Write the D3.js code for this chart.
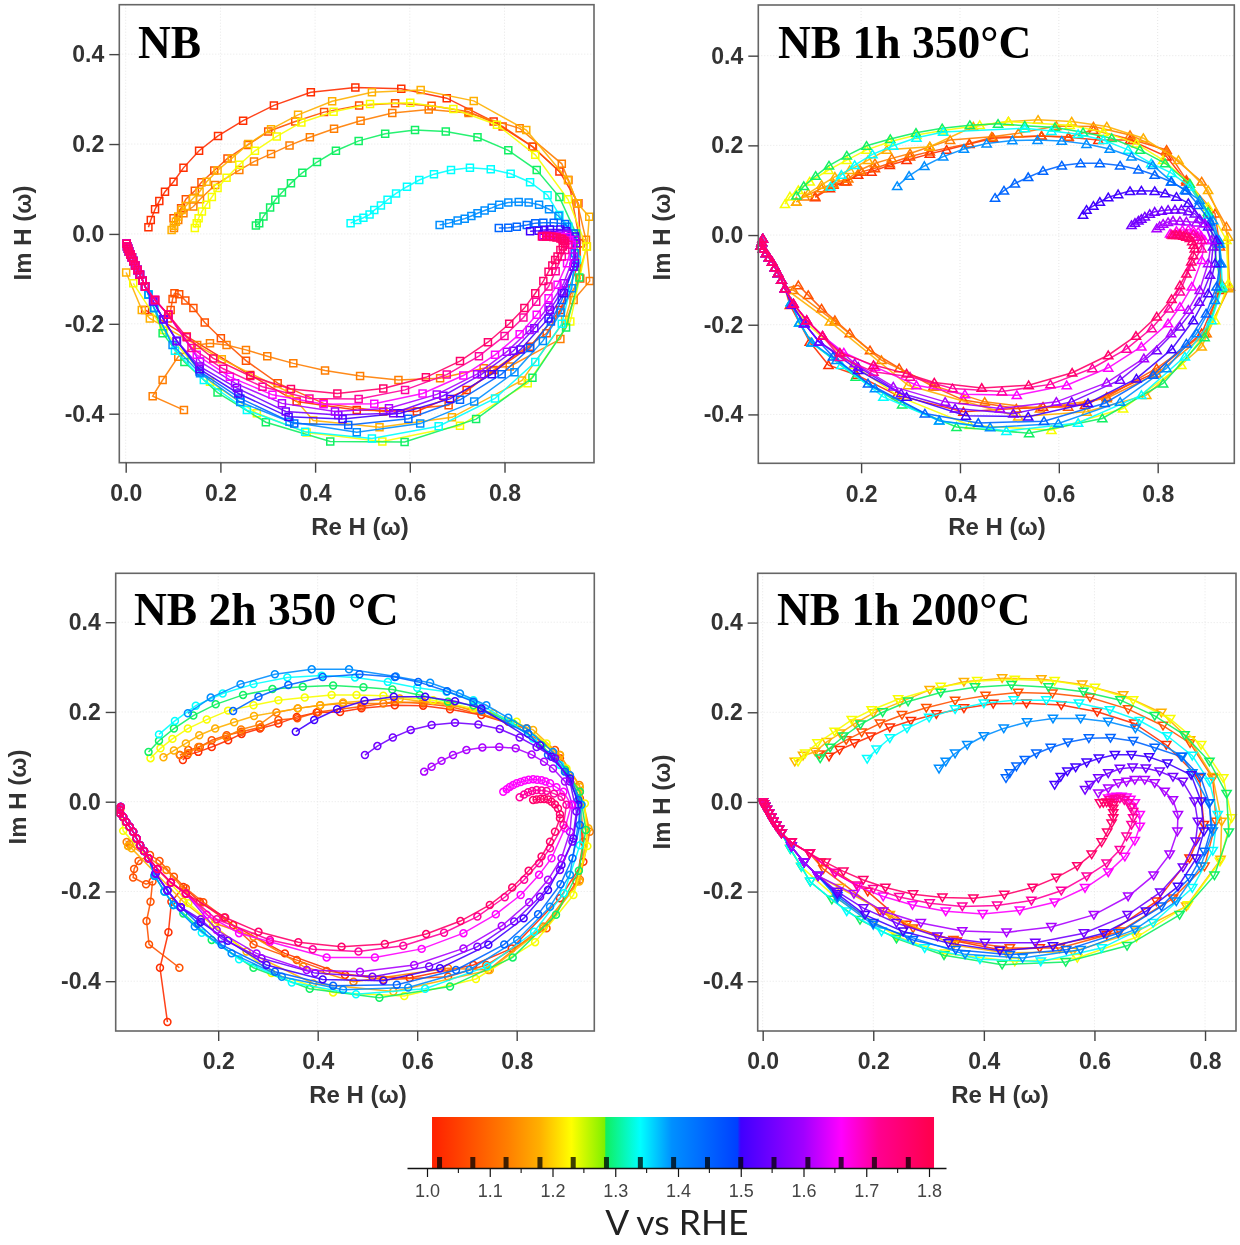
<!DOCTYPE html>
<html>
<head>
<meta charset="utf-8">
<script src="https://cdn.jsdelivr.net/npm/d3@7"></script>
<style>
body { margin:0; background:#fff; }
svg { display:block; filter:blur(.3px); }
</style>
</head>
<body>
<script>
// potentials of the 15 spectra
var voltages = [1.02,1.073,1.126,1.18,1.233,1.286,1.34,1.393,1.447,1.5,1.553,1.607,1.66,1.713,1.767];
var barStops = [1.0,1.07,1.13,1.18,1.23,1.283,1.285,1.34,1.39,1.495,1.5,1.6,1.66,1.72,1.8];
var barColors = ["#ff2000","#ff5000","#ff8000","#ffb000","#ffff00","#80f000","#10f060","#00ffff","#0090ff","#0040ff","#4000ff","#a000ff","#ff00ff","#ff0090","#ff0050"];
var barMajor = [1.0,1.1,1.2,1.3,1.4,1.5,1.6,1.7,1.8];
var barMinor = [1.05,1.15,1.25,1.35,1.45,1.55,1.65,1.75];
var imTicks = [0.4,0.2,0,-0.2,-0.4];

// NB, squares
var nbHead = [[.002,-.022],[.003,-.028],[.005,-.033],[.007,-.039],[.010,-.046],[.013,-.052],[.016,-.060],[.020,-.070],[.025,-.080],[.030,-.091],[.036,-.104],[.041,-.117]];
var nbOut = nbHead.concat([[.048,-.135],[.060,-.165]]);
var nbMid = nbHead.concat([[.058,-.150],[.080,-.190],[.108,-.238]]);
var nbIn = nbHead.concat([[.062,-.147],[.090,-.180]]);
var nb0 = [[.041,-.169],[.129,-.228],[.263,-.314],[.361,-.373],[.488,-.392],[.615,-.395],[.720,-.347],[.854,-.251],[.918,-.169],[.954,-.073],[.960,-.021],[.956,.068],[.916,.139],[.859,.194],[.777,.250],[.678,.302],[.582,.323],[.485,.326],[.391,.315],[.313,.286],[.248,.252],[.195,.218],[.155,.185],[.122,.147],[.101,.116],[.083,.094],[.071,.073],[.062,.055],[.053,.031],[.048,.015]];
var nb1 = [[.089,-.188],[.095,-.169],[.099,-.145],[.103,-.132],[.113,-.134],[.126,-.148],[.143,-.165],[.167,-.197],[.201,-.232],[.254,-.282],[.321,-.332],[.418,-.377],[.544,-.395],[.682,-.381],[.777,-.303],[.889,-.221],[.960,-.099],[.960,-.021],[.935,.120],[.860,.194],[.796,.239],[.724,.272],[.646,.285],[.569,.291],[.493,.286],[.419,.271],[.358,.250],[.301,.228],[.258,.198],[.215,.168],[.187,.141],[.160,.115],[.146,.096],[.127,.077],[.117,.057],[.101,.035]];
var nb2 = [[.123,-.392],[.057,-.361],[.078,-.325],[.111,-.273],[.151,-.247],[.178,-.243],[.213,-.247],[.254,-.258],[.299,-.272],[.354,-.288],[.421,-.304],[.495,-.316],[.576,-.325],[.664,-.321],[.756,-.299],[.811,-.295],[.918,-.234],[.946,-.147],[.980,-.105],[.972,-.013],[.954,.068],[.921,.156],[.832,.235],[.724,.269],[.640,.277],[.563,.269],[.496,.252],[.440,.234],[.389,.215],[.346,.197],[.307,.178],[.271,.161],[.240,.142],[.189,.109],[.157,.077],[.143,.061],[.122,.046],[.111,.031],[.102,.013]];
var nb3 = [[.001,-.086],[.034,-.169],[.051,-.188],[.203,-.279],[.346,-.353],[.396,-.415],[.536,-.430],[.689,-.408],[.837,-.326],[.928,-.191],[.974,-.028],[.979,.038],[.954,.068],[.934,.120],[.846,.231],[.735,.296],[.623,.320],[.520,.315],[.436,.295],[.364,.265],[.307,.233],[.259,.200],[.224,.168],[.194,.141],[.171,.116],[.156,.094],[.142,.079],[.127,.062],[.118,.053],[.111,.039],[.106,.027],[.102,.018],[.097,.009]];
var nb4 = [[.016,-.110],[.080,-.214],[.178,-.329],[.277,-.399],[.382,-.442],[.542,-.462],[.706,-.427],[.849,-.332],[.939,-.195],[.973,-.028],[.934,.077],[.865,.176],[.784,.243],[.692,.278],[.601,.292],[.516,.289],[.439,.272],[.371,.248],[.319,.217],[.273,.185],[.240,.154],[.213,.125],[.194,.102],[.182,.082],[.170,.065],[.161,.050],[.154,.035],[.150,.024],[.146,.013]];
var nb5 = nbOut.concat([[.078,-.221],[.124,-.285],[.194,-.353],[.296,-.419],[.432,-.462],[.589,-.463],[.740,-.412],[.859,-.320],[.930,-.208],[.958,-.097],[.951,.001],[.916,.082],[.868,.142],[.808,.186],[.743,.215],[.676,.228],[.611,.231],[.548,.223],[.492,.207],[.444,.185],[.404,.160],[.373,.136],[.349,.113],[.330,.092],[.316,.076],[.305,.059],[.291,.039],[.282,.024],[.275,.019]]);
var nb6 = nbOut.concat([[.104,-.260],[.165,-.325],[.256,-.392],[.379,-.440],[.520,-.455],[.661,-.428],[.780,-.366],[.865,-.285],[.921,-.200],[.953,-.058],[.935,.016],[.916,.042],[.891,.086],[.854,.115],[.813,.134],[.771,.144],[.727,.147],[.687,.142],[.651,.133],[.620,.120],[.594,.105],[.571,.090],[.553,.076],[.539,.063],[.525,.053],[.515,.043],[.502,.036],[.489,.031],[.475,.024]]);
var nb7 = nbOut.concat([[.099,-.247],[.157,-.310],[.242,-.374],[.346,-.418],[.488,-.441],[.622,-.422],[.736,-.373],[.821,-.308],[.881,-.238],[.919,-.175],[.942,-.121],[.949,-.043],[.932,.016],[.914,.040],[.894,.055],[.873,.065],[.851,.070],[.830,.071],[.808,.070],[.789,.065],[.773,.058],[.758,.052],[.743,.046],[.730,.040],[.716,.034],[.701,.030],[.683,.024],[.663,.020]]);
var nb8 = nbMid.concat([[.156,-.306],[.242,-.366],[.356,-.422],[.470,-.425],[.597,-.411],[.706,-.369],[.794,-.312],[.854,-.254],[.898,-.195],[.921,-.147],[.946,-.073],[.946,.001],[.928,.022],[.904,.025],[.882,.025],[.865,.024],[.847,.020],[.826,.016],[.808,.014],[.788,.013]]);
var nb9 = nbMid.concat([[.156,-.301],[.238,-.355],[.344,-.407],[.458,-.412],[.580,-.399],[.685,-.367],[.773,-.312],[.834,-.257],[.893,-.188],[.925,-.132],[.949,-.065],[.949,-.006],[.930,.006],[.918,.010],[.896,.010],[.884,.009],[.872,.007],[.854,.006]]);
var nb10 = nbMid.concat([[.156,-.295],[.235,-.343],[.338,-.395],[.449,-.403],[.565,-.399],[.671,-.360],[.752,-.312],[.819,-.260],[.863,-.210],[.896,-.169],[.921,-.128],[.946,-.073],[.951,-.021],[.932,.001],[.918,-.001],[.905,-.002],[.892,-.002],[.880,-.003]]);
var nb11 = nbIn.concat([[.157,-.284],[.231,-.332],[.330,-.377],[.442,-.395],[.556,-.388],[.657,-.357],[.742,-.312],[.805,-.262],[.853,-.214],[.893,-.162],[.925,-.110],[.946,-.050],[.949,-.013],[.932,-.002],[.918,-.004],[.905,-.005],[.892,-.005],[.882,-.005]]);
var nb12 = nbIn.concat([[.150,-.269],[.220,-.318],[.310,-.358],[.418,-.379],[.525,-.378],[.627,-.355],[.713,-.315],[.780,-.269],[.832,-.223],[.868,-.180],[.893,-.143],[.912,-.113],[.932,-.065],[.942,-.024],[.937,-.014],[.932,-.007],[.918,-.007],[.905,-.006],[.892,-.006],[.882,-.006]]);
var nb13 = nbIn.concat([[.139,-.254],[.206,-.300],[.289,-.340],[.388,-.366],[.492,-.367],[.590,-.347],[.678,-.313],[.746,-.272],[.800,-.227],[.840,-.186],[.867,-.151],[.893,-.117],[.908,-.083],[.921,-.050],[.928,-.036],[.935,-.024],[.928,-.016],[.921,-.010],[.910,-.007],[.900,-.005],[.889,-.004]]);
var nb14 = nbIn.concat([[.129,-.230],[.185,-.277],[.263,-.316],[.349,-.345],[.447,-.355],[.544,-.344],[.634,-.319],[.706,-.283],[.765,-.241],[.810,-.200],[.842,-.165],[.865,-.132],[.882,-.105],[.893,-.084],[.901,-.070],[.907,-.058],[.912,-.050],[.918,-.036],[.923,-.028],[.928,-.021],[.926,-.015],[.922,-.012],[.918,-.010],[.910,-.008],[.903,-.007],[.896,-.006],[.888,-.006],[.879,-.006]]);

// NB 1h 350C, triangles up
var a1Head = [[.001,-.008],[-.001,-.016],[-.003,-.024],[.002,-.030],[.008,-.040],[.014,-.050],[.020,-.060],[.026,-.072],[.032,-.085],[.039,-.100],[.046,-.119]];
var a1Out = a1Head.concat([[.058,-.150],[.075,-.195],[.100,-.240]]);
var a1Mid = a1Head.concat([[.060,-.155],[.085,-.197],[.115,-.238]]);
var a1In = a1Head.concat([[.063,-.153],[.090,-.190],[.122,-.225]]);
var a1_0 = a1Head.concat([[.056,-.156],[.096,-.238],[.134,-.290],[.191,-.312],[.272,-.357],[.407,-.394],[.568,-.383],[.653,-.379],[.791,-.309],[.889,-.219],[.926,-.123],[.926,-.020],[.902,.048],[.858,.119],[.818,.175],[.744,.212],[.680,.212],[.619,.218],[.565,.221],[.467,.216],[.419,.203],[.373,.190],[.339,.181],[.292,.167],[.258,.156],[.221,.141],[.194,.134],[.167,.119],[.137,.104],[.107,.084]]);
var a1_1 = a1Head.concat([[.073,-.112],[.093,-.134],[.120,-.164],[.147,-.190],[.177,-.219],[.218,-.257],[.277,-.297],[.346,-.338],[.407,-.368],[.514,-.387],[.619,-.383],[.697,-.361],[.798,-.297],[.895,-.219],[.929,-.108],[.926,-.026],[.916,.048],[.858,.123],[.818,.190],[.750,.212],[.670,.234],[.620,.219],[.565,.221],[.466,.218],[.419,.204],[.339,.186],[.299,.175],[.258,.160],[.228,.149],[.201,.141],[.171,.119],[.144,.112],[.107,.086]]);
var a1_2 = a1Head.concat([[.063,-.123],[.147,-.193],[.241,-.279],[.353,-.338],[.450,-.372],[.562,-.387],[.697,-.364],[.798,-.309],[.899,-.219],[.946,-.115],[.939,.019],[.889,.119],[.818,.186],[.744,.223],[.670,.242],[.595,.243],[.518,.227],[.464,.219],[.380,.212],[.339,.197],[.299,.182],[.262,.171],[.228,.160],[.198,.145],[.174,.126],[.144,.115],[.120,.104],[.086,.086],[.069,.074]]);
var a1_3 = a1Head.concat([[.137,-.193],[.295,-.335],[.518,-.405],[.656,-.394],[.777,-.357],[.889,-.249],[.943,-.119],[.943,-.004],[.902,.100],[.842,.167],[.771,.216],[.697,.242],[.626,.253],[.558,.257],[.498,.253],[.427,.242],[.339,.197],[.252,.190],[.214,.167],[.177,.145],[.147,.130],[.120,.112],[.093,.093],[.069,.074]]);
var a1_4 = a1Head.concat([[.083,-.190],[.184,-.290],[.278,-.361],[.420,-.424],[.585,-.435],[.730,-.387],[.848,-.290],[.916,-.190],[.943,-.108],[.939,-.011],[.902,.063],[.865,.115],[.811,.167],[.757,.204],[.690,.230],[.622,.245],[.498,.253],[.440,.245],[.366,.233],[.312,.223],[.258,.208],[.211,.190],[.171,.167],[.134,.145],[.096,.119],[.073,.100],[.056,.086],[.046,.069]]);
var a1_5 = a1Out.concat([[.189,-.316],[.283,-.378],[.393,-.428],[.540,-.442],[.688,-.409],[.811,-.331],[.895,-.228],[.929,-.119],[.902,.052],[.865,.114],[.815,.160],[.764,.190],[.707,.216],[.649,.229],[.592,.240],[.531,.244],[.477,.248],[.420,.245],[.364,.238],[.311,.228],[.259,.214],[.211,.199],[.171,.177],[.135,.155],[.108,.132],[.084,.109],[.069,.088]]);
var a1_6 = a1Out.concat([[.160,-.290],[.245,-.361],[.358,-.414],[.494,-.437],[.639,-.419],[.767,-.357],[.855,-.271],[.909,-.190],[.931,-.115],[.926,-.019],[.902,.045],[.865,.108],[.828,.138],[.787,.160],[.740,.190],[.690,.212],[.639,.225],[.585,.232],[.531,.238],[.366,.230],[.312,.217],[.265,.199],[.223,.180],[.187,.156],[.160,.134],[.138,.108]]);
var a1_7 = a1Out.concat([[.150,-.279],[.228,-.342],[.358,-.414],[.461,-.429],[.599,-.420],[.724,-.372],[.818,-.297],[.879,-.219],[.916,-.145],[.929,-.063],[.924,-.011],[.912,.033],[.885,.078],[.855,.100],[.828,.119],[.790,.156],[.747,.175],[.703,.192],[.656,.203],[.606,.210],[.557,.212],[.506,.211],[.454,.204],[.408,.192],[.366,.175],[.328,.154],[.297,.132],[.273,.109]]);
var a1_8 = a1Mid.concat([[.143,-.271],[.214,-.331],[.329,-.398],[.437,-.419],[.570,-.415],[.693,-.375],[.791,-.312],[.858,-.242],[.898,-.175],[.919,-.115],[.926,-.063],[.924,-.019],[.906,.030],[.882,.067],[.858,.099],[.827,.119],[.794,.134],[.761,.146],[.724,.155],[.683,.160],[.644,.160],[.606,.155],[.568,.143],[.538,.129],[.511,.115],[.489,.099],[.471,.083]]);
var a1_9 = a1Mid.concat([[.194,-.301],[.292,-.361],[.412,-.403],[.538,-.405],[.659,-.375],[.757,-.320],[.828,-.255],[.872,-.190],[.902,-.130],[.916,-.063],[.919,-.011],[.902,.019],[.862,.071],[.838,.085],[.815,.093],[.794,.098],[.767,.099],[.744,.098],[.720,.091],[.700,.084],[.683,.074],[.670,.065],[.656,.056],[.649,.045]]);
var a1_10 = a1Mid.concat([[.194,-.294],[.281,-.353],[.390,-.387],[.508,-.398],[.626,-.372],[.724,-.323],[.798,-.257],[.845,-.204],[.884,-.149],[.906,-.089],[.912,-.026],[.895,.026],[.885,.036],[.875,.048],[.862,.053],[.848,.057],[.835,.057],[.821,.056],[.808,.054],[.794,.052],[.784,.047],[.774,.041],[.767,.036],[.761,.032],[.754,.027],[.747,.022]]);
var a1_11 = a1In.concat([[.187,-.286],[.265,-.338],[.370,-.372],[.481,-.387],[.595,-.372],[.697,-.329],[.772,-.275],[.827,-.219],[.862,-.167],[.885,-.123],[.902,-.063],[.909,-.011],[.895,.026],[.878,.028],[.858,.030],[.845,.031],[.831,.032],[.821,.029],[.811,.025],[.804,.020],[.798,.015]]);
var a1_12 = a1In.concat([[.165,-.262],[.228,-.294],[.312,-.335],[.410,-.355],[.515,-.357],[.616,-.335],[.700,-.296],[.767,-.249],[.821,-.197],[.845,-.160],[.869,-.115],[.889,-.056],[.895,-.011],[.888,-.002],[.882,.007],[.872,.010],[.862,.012],[.850,.011],[.838,.009],[.825,.003]]);
var a1_13 = a1In.concat([[.157,-.272],[.225,-.305],[.299,-.316],[.385,-.342],[.485,-.349],[.583,-.333],[.668,-.297],[.737,-.254],[.788,-.208],[.823,-.164],[.845,-.126],[.866,-.071],[.889,-.030],[.889,-.011],[.880,-.004],[.872,.002],[.858,.003],[.845,.003],[.836,.002],[.828,.001]]);
var a1_14 = a1In.concat([[.157,-.262],[.225,-.290],[.292,-.309],[.348,-.329],[.444,-.341],[.539,-.335],[.627,-.307],[.700,-.268],[.756,-.225],[.798,-.182],[.828,-.143],[.845,-.112],[.858,-.086],[.868,-.059],[.872,-.045],[.875,-.030],[.873,-.022],[.870,-.014],[.865,-.007],[.858,-.004],[.852,-.002],[.845,.000],[.838,.000],[.831,.000]]);

// NB 2h 350C, circles
var a2Head = [[.004,-.012],[.002,-.018],[.003,-.026],[.009,-.034],[.015,-.045],[.022,-.056],[.029,-.067],[.036,-.082],[.043,-.097],[.051,-.110],[.060,-.126]];
var a2Out = a2Head.concat([[.072,-.165],[.092,-.200],[.110,-.230]]);
var a2Mid = a2Head.concat([[.074,-.160],[.098,-.198],[.125,-.235]]);
var a2In = a2Head.concat([[.078,-.150],[.105,-.180],[.135,-.205]]);
var a2_0 = [[.098,-.491],[.083,-.370],[.100,-.291],[.106,-.223],[.130,-.190],[.163,-.223],[.230,-.275],[.334,-.338],[.455,-.386],[.585,-.393],[.713,-.364],[.790,-.327],[.887,-.215],[.934,-.134],[.927,.007],[.887,.097],[.820,.163],[.729,.193],[.666,.206],[.612,.214],[.555,.215],[.488,.208],[.445,.200],[.398,.199],[.358,.189],[.321,.174],[.284,.163],[.247,.151],[.220,.137],[.187,.122],[.160,.111],[.138,.104],[.129,.093]];
var a2_1 = [[.122,-.370],[.061,-.318],[.056,-.266],[.064,-.223],[.068,-.178],[.055,-.184],[.029,-.169],[.031,-.150],[.040,-.132],[.063,-.119],[.082,-.132],[.111,-.167],[.135,-.193],[.170,-.224],[.212,-.258],[.271,-.318],[.358,-.353],[.418,-.377],[.532,-.397],[.662,-.390],[.739,-.364],[.860,-.282],[.920,-.178],[.934,-.089],[.927,.022],[.877,.115],[.783,.178],[.666,.212],[.612,.219],[.555,.223],[.488,.212],[.401,.200],[.359,.186],[.321,.182],[.286,.166],[.247,.156],[.217,.148],[.187,.137],[.163,.122],[.140,.115],[.123,.104]];
var a2_2 = [[.019,-.099],[.016,-.090],[.022,-.095],[.096,-.152],[.194,-.271],[.271,-.301],[.371,-.367],[.472,-.401],[.662,-.371],[.743,-.375],[.853,-.278],[.927,-.174],[.947,-.067],[.926,.037],[.887,.104],[.820,.163],[.666,.219],[.612,.223],[.532,.219],[.451,.219],[.405,.215],[.360,.208],[.317,.199],[.283,.172],[.246,.161],[.216,.145],[.160,.122],[.140,.108],[.123,.104]];
var a2_3 = [[.019,-.099],[.026,-.104],[.130,-.223],[.257,-.334],[.391,-.405],[.552,-.423],[.746,-.375],[.853,-.282],[.926,-.178],[.944,-.059],[.927,.033],[.887,.104],[.833,.160],[.753,.197],[.666,.215],[.565,.230],[.451,.221],[.405,.215],[.360,.208],[.272,.191],[.232,.177],[.194,.163],[.162,.148],[.135,.130],[.111,.114],[.090,.099]];
var a2_4 = [[.004,-.016],[.009,-.065],[.140,-.226],[.190,-.275],[.307,-.382],[.431,-.425],[.574,-.433],[.718,-.395],[.837,-.313],[.914,-.208],[.942,-.099],[.937,-.004],[.900,.074],[.860,.130],[.800,.178],[.713,.208],[.632,.226],[.532,.236],[.478,.238],[.428,.238],[.374,.232],[.321,.226],[.271,.215],[.220,.203],[.177,.183],[.139,.163],[.108,.140],[.084,.119],[.064,.097]];
var a2_5 = a2Out.concat([[.130,-.249],[.187,-.308],[.271,-.370],[.384,-.417],[.524,-.437],[.666,-.412],[.792,-.347],[.879,-.252],[.925,-.154],[.939,-.063],[.927,.022],[.897,.071],[.850,.126],[.793,.174],[.713,.215],[.662,.223],[.605,.238],[.550,.250],[.492,.255],[.431,.259],[.370,.256],[.309,.251],[.250,.238],[.195,.217],[.150,.192],[.111,.163],[.081,.136],[.060,.111]]);
var a2_6 = a2Out.concat([[.167,-.292],[.242,-.351],[.348,-.403],[.477,-.429],[.616,-.417],[.741,-.367],[.835,-.290],[.895,-.204],[.927,-.097],[.930,-.007],[.887,.082],[.833,.141],[.786,.178],[.713,.226],[.659,.245],[.600,.254],[.541,.267],[.475,.277],[.408,.281],[.339,.277],[.271,.262],[.209,.241],[.155,.214],[.113,.180],[.081,.150]]);
var a2_7 = a2Out.concat([[.153,-.278],[.227,-.338],[.328,-.390],[.451,-.419],[.582,-.414],[.705,-.375],[.801,-.308],[.867,-.234],[.907,-.163],[.930,-.007],[.907,.059],[.873,.111],[.820,.163],[.783,.187],[.739,.215],[.686,.241],[.626,.265],[.557,.279],[.463,.295],[.388,.295],[.314,.284],[.245,.262],[.185,.232],[.139,.197]]);
var a2_8 = a2Mid.concat([[.160,-.272],[.207,-.319],[.314,-.379],[.431,-.410],[.559,-.408],[.678,-.375],[.775,-.318],[.843,-.251],[.888,-.184],[.912,-.126],[.927,-.052],[.924,.004],[.897,.067],[.863,.104],[.823,.152],[.729,.204],[.713,.223],[.660,.246],[.602,.267],[.555,.278],[.484,.284],[.410,.278],[.341,.260],[.281,.234],[.230,.202]]);
var a2_9 = a2Mid.concat([[.165,-.268],[.220,-.310],[.297,-.364],[.410,-.396],[.532,-.399],[.646,-.371],[.743,-.319],[.814,-.260],[.863,-.197],[.890,-.141],[.914,-.082],[.924,-.007],[.907,.052],[.870,.100],[.847,.126],[.729,.208],[.676,.224],[.616,.234],[.553,.234],[.494,.225],[.439,.206],[.393,.182],[.356,.156]]);
var a2_10 = a2Mid.concat([[.165,-.262],[.207,-.305],[.287,-.349],[.395,-.382],[.510,-.390],[.624,-.367],[.721,-.323],[.795,-.267],[.847,-.212],[.887,-.152],[.912,-.089],[.920,-.022],[.907,.045],[.877,.097],[.840,.122],[.806,.143],[.766,.162],[.723,.172],[.676,.176],[.629,.171],[.587,.160],[.551,.143],[.520,.124],[.495,.104]]);
var a2_11 = a2In.concat([[.197,-.286],[.277,-.338],[.378,-.375],[.485,-.379],[.594,-.364],[.693,-.327],[.770,-.277],[.825,-.224],[.863,-.174],[.890,-.126],[.907,-.067],[.912,-.007],[.897,.045],[.873,.074],[.855,.089],[.830,.105],[.798,.119],[.765,.122],[.731,.121],[.699,.115],[.672,.104],[.649,.091],[.629,.078],[.614,.067]]);
var a2_12 = a2In.concat([[.177,-.252],[.242,-.293],[.304,-.312],[.418,-.347],[.515,-.347],[.609,-.328],[.693,-.293],[.758,-.251],[.808,-.208],[.845,-.163],[.870,-.126],[.897,-.059],[.910,-.007],[.894,.022],[.880,.032],[.867,.041],[.858,.045],[.850,.048],[.841,.049],[.833,.050],[.824,.049],[.816,.047],[.808,.044],[.800,.041],[.793,.037],[.786,.033],[.780,.028],[.773,.022]]);
var a2_13 = a2In.concat([[.197,-.262],[.304,-.308],[.390,-.329],[.482,-.334],[.572,-.321],[.654,-.292],[.721,-.256],[.776,-.213],[.815,-.174],[.845,-.137],[.867,-.104],[.894,-.052],[.900,-.007],[.890,.011],[.875,.018],[.860,.024],[.850,.025],[.840,.026],[.831,.024],[.823,.021],[.815,.016],[.806,.010]]);
var a2_14 = a2In.concat([[.214,-.258],[.281,-.290],[.361,-.313],[.448,-.323],[.535,-.317],[.618,-.295],[.687,-.266],[.746,-.230],[.791,-.191],[.824,-.154],[.850,-.122],[.867,-.089],[.877,-.067],[.887,-.037],[.887,-.028],[.883,-.015],[.877,-.006],[.870,.000],[.863,.005],[.855,.006],[.848,.006],[.840,.005],[.833,.004]]);

// NB 1h 200C, triangles down
var a3Head = [[.000,-.001],[.002,-.005],[.004,-.011],[.007,-.018],[.011,-.026],[.015,-.035],[.019,-.044],[.024,-.053],[.029,-.062],[.034,-.070]];
var a3Out = a3Head.concat([[.050,-.105],[.070,-.145]]);
var a3Mid = a3Head.concat([[.052,-.100],[.075,-.135],[.100,-.165]]);
var a3In = a3Head.concat([[.052,-.090],[.085,-.115]]);
var a3_0 = a3In.concat([[.105,-.135],[.190,-.200],[.260,-.274],[.351,-.311],[.429,-.330],[.501,-.326],[.622,-.296],[.712,-.222],[.772,-.126],[.798,-.051],[.790,.053],[.730,.127],[.672,.175],[.605,.201],[.540,.216],[.477,.220],[.417,.219],[.364,.209],[.314,.196],[.268,.181],[.230,.166],[.195,.146],[.166,.131],[.139,.116],[.120,.101]]);
var a3_1 = a3In.concat([[.110,-.150],[.212,-.244],[.272,-.282],[.345,-.308],[.447,-.326],[.537,-.326],[.646,-.289],[.742,-.215],[.799,-.144],[.820,-.044],[.814,.053],[.773,.131],[.724,.170],[.661,.207],[.592,.233],[.524,.242],[.462,.244],[.403,.237],[.348,.226],[.296,.210],[.252,.194],[.212,.175],[.179,.155],[.151,.138],[.102,.106]]);
var a3_3 = a3Mid.concat([[.140,-.192],[.230,-.252],[.345,-.319],[.441,-.337],[.561,-.334],[.676,-.289],[.766,-.233],[.828,-.129],[.830,-.044],[.814,.056],[.773,.138],[.721,.199],[.652,.238],[.578,.262],[.504,.274],[.433,.276],[.364,.268],[.302,.250],[.248,.222],[.200,.198],[.167,.175],[.140,.153],[.116,.134],[.095,.112],[.073,.103],[.058,.090]]);
var a3_4 = a3Out.concat([[.134,-.215],[.242,-.300],[.330,-.338],[.456,-.356],[.569,-.348],[.676,-.302],[.769,-.230],[.827,-.133],[.848,-.036],[.833,.053],[.793,.127],[.737,.185],[.670,.227],[.601,.255],[.528,.270],[.456,.273],[.388,.270],[.322,.257],[.245,.229],[.197,.205],[.161,.183],[.130,.157],[.099,.131],[.077,.108],[.064,.090]]);
var a3_5 = a3Out.concat([[.086,-.178],[.125,-.218],[.176,-.263],[.242,-.305],[.328,-.342],[.433,-.363],[.548,-.357],[.659,-.321],[.754,-.252],[.817,-.164],[.843,-.068],[.839,.018],[.808,.090],[.763,.149],[.709,.192],[.647,.227],[.580,.246],[.517,.256],[.450,.261],[.384,.256],[.322,.244],[.263,.224],[.217,.200],[.177,.173],[.146,.146],[.122,.121],[.104,.097]]);
var a3_6 = a3Out.concat([[.086,-.178],[.152,-.244],[.215,-.289],[.293,-.326],[.393,-.351],[.503,-.356],[.613,-.326],[.706,-.270],[.777,-.192],[.814,-.109],[.823,-.029],[.808,.045],[.777,.103],[.732,.147],[.682,.181],[.628,.205],[.572,.220],[.513,.227],[.454,.227],[.400,.220],[.348,.207],[.301,.188],[.261,.164],[.230,.142],[.206,.117],[.189,.096]]);
var a3_7 = a3Mid.concat([[.135,-.215],[.200,-.274],[.263,-.300],[.366,-.340],[.470,-.348],[.575,-.330],[.673,-.285],[.748,-.222],[.792,-.144],[.814,-.066],[.807,-.003],[.777,.064],[.759,.101],[.674,.164],[.625,.179],[.575,.186],[.525,.186],[.478,.178],[.436,.164],[.400,.147],[.370,.127],[.348,.108],[.331,.090],[.319,.074]]);
var a3_8 = a3Mid.concat([[.135,-.210],[.200,-.270],[.272,-.308],[.349,-.330],[.447,-.341],[.549,-.330],[.643,-.293],[.721,-.233],[.772,-.170],[.799,-.111],[.811,-.059],[.808,-.003],[.792,.056],[.757,.101],[.709,.121],[.670,.136],[.629,.143],[.590,.142],[.552,.133],[.521,.121],[.495,.108],[.474,.094],[.459,.079],[.447,.064],[.440,.053]]);
var a3_9 = a3Mid.concat([[.135,-.205],[.185,-.252],[.254,-.289],[.336,-.315],[.429,-.332],[.525,-.322],[.617,-.293],[.693,-.244],[.751,-.189],[.784,-.126],[.798,-.066],[.793,.001],[.775,.060],[.732,.086],[.699,.100],[.667,.105],[.637,.105],[.608,.097],[.586,.088],[.566,.077],[.551,.068],[.539,.056],[.528,.038]]);
var a3_10 = a3Mid.concat([[.135,-.200],[.182,-.237],[.242,-.270],[.316,-.300],[.402,-.314],[.493,-.314],[.581,-.293],[.660,-.252],[.719,-.202],[.760,-.146],[.783,-.088],[.787,-.044],[.781,.001],[.760,.045],[.742,.056],[.718,.068],[.693,.075],[.669,.077],[.646,.074],[.625,.064],[.607,.053],[.592,.038],[.583,.027]]);
var a3_11 = a3Mid.concat([[.165,-.205],[.218,-.244],[.286,-.270],[.361,-.288],[.441,-.291],[.522,-.279],[.599,-.252],[.661,-.211],[.707,-.164],[.736,-.117],[.750,-.066],[.751,-.029],[.742,.004],[.727,.023],[.709,.042],[.691,.049],[.673,.049],[.658,.045],[.643,.042],[.625,.030],[.607,.019]]);
var a3_12 = a3In.concat([[.130,-.158],[.173,-.189],[.218,-.211],[.271,-.230],[.331,-.244],[.398,-.250],[.465,-.242],[.528,-.224],[.583,-.192],[.625,-.157],[.655,-.122],[.673,-.087],[.682,-.055],[.682,-.029],[.673,-.003],[.665,.005],[.658,.010],[.649,.012],[.640,.012],[.632,.010],[.625,.008]]);
var a3_13 = a3In.concat([[.131,-.159],[.170,-.186],[.200,-.194],[.247,-.212],[.302,-.226],[.361,-.233],[.424,-.231],[.486,-.220],[.540,-.198],[.586,-.166],[.622,-.137],[.646,-.107],[.658,-.077],[.667,-.051],[.670,-.036],[.670,-.022],[.666,-.012],[.661,-.003],[.654,.004],[.646,.008],[.637,.007],[.628,.004]]);
var a3_14 = a3In.concat([[.114,-.135],[.146,-.155],[.182,-.174],[.222,-.191],[.272,-.206],[.325,-.213],[.381,-.215],[.437,-.207],[.488,-.191],[.531,-.169],[.569,-.143],[.595,-.117],[.613,-.090],[.623,-.068],[.631,-.048],[.634,-.036],[.634,-.025],[.634,-.015],[.634,-.007],[.628,-.003],[.622,-.001],[.616,-.002],[.610,-.003]]);

var w = 1240;
var h = 1245;
var svgMain = d3.select("body").append("svg").attr("width",w).attr("height",h);

var colorOf = d3.scaleLinear().domain(barStops).range(barColors);

var panels = [
  {title:"NB", marker:"square", curves:[nb0,nb1,nb2,nb3,nb4,nb5,nb6,nb7,nb8,nb9,nb10,nb11,nb12,nb13,nb14], volts:voltages,
   xTicks:[0,0.2,0.4,0.6,0.8], xDom:[-.0135,.989], yDom:[.510,-.509], box:[119.3,4.7,594,462.7], tx:138, ty:58, xl:[360,535], yl:[23,233]},
  {title:"NB 1h 350°C", marker:"up", curves:[a1_0,a1_1,a1_2,a1_3,a1_4,a1_5,a1_6,a1_7,a1_8,a1_9,a1_10,a1_11,a1_12,a1_13,a1_14], volts:voltages,
   xTicks:[0.2,0.4,0.6,0.8], xDom:[-.008,.955], yDom:[.513,-.509], box:[758.3,5,1234.3,463.3], tx:778, ty:58, xl:[997,535], yl:[662,233]},
  {title:"NB 2h 350 °C", marker:"circle", curves:[a2_0,a2_1,a2_2,a2_3,a2_4,a2_5,a2_6,a2_7,a2_8,a2_9,a2_10,a2_11,a2_12,a2_13,a2_14], volts:voltages,
   xTicks:[0.2,0.4,0.6,0.8], xDom:[-.006,.956], yDom:[.509,-.511], box:[115.7,573.3,594.3,1031], tx:134, ty:625, xl:[358,1103], yl:[18,797]},
  {title:"NB 1h 200°C", marker:"down", curves:[a3_0,a3_1,a3_3,a3_4,a3_5,a3_6,a3_7,a3_8,a3_9,a3_10,a3_11,a3_12,a3_13,a3_14],
   volts:[1.02,1.073,1.18,1.233,1.286,1.34,1.393,1.447,1.5,1.553,1.607,1.66,1.713,1.767],
   xTicks:[0,0.2,0.4,0.6,0.8], xDom:[-.009,.856], yDom:[.510,-.511], box:[757.7,573.3,1236,1031], tx:777, ty:625, xl:[1000,1103], yl:[662,802]}
];

panels.forEach(drawPanel);
drawBar();

function drawPanel(p){
  var x = d3.scaleLinear().domain(p.xDom).range([p.box[0],p.box[2]]);
  var y = d3.scaleLinear().domain(p.yDom).range([p.box[1],p.box[3]]);
  var g = svgMain.append("g");

  // faint grid
  g.selectAll(".gx").data(p.xTicks).enter().append("line")
    .attr("x1",x).attr("x2",x).attr("y1",p.box[1]).attr("y2",p.box[3])
    .attr("stroke","#e6e6e6").attr("stroke-dasharray","1,2");
  g.selectAll(".gy").data(imTicks).enter().append("line")
    .attr("y1",y).attr("y2",y).attr("x1",p.box[0]).attr("x2",p.box[2])
    .attr("stroke","#e6e6e6").attr("stroke-dasharray","1,2");

  var line = d3.line().x(function(d){return x(d[0]);}).y(function(d){return y(d[1]);});
  var sym = symbolFor(p.marker);

  p.curves.forEach(function(c,i){
    var col = colorOf(p.volts[i]);
    g.append("path").attr("d",line(c)).attr("fill","none").attr("stroke",col).attr("stroke-width",1.5).attr("stroke-opacity",.9);
    g.selectAll(".m"+i).data(c).enter().append("path")
      .attr("d",sym)
      .attr("transform",function(d){return "translate("+x(d[0])+","+y(d[1])+")";})
      .attr("fill","none").attr("stroke",col).attr("stroke-width",1.5);
  });

  g.append("rect").attr("x",p.box[0]).attr("y",p.box[1])
    .attr("width",p.box[2]-p.box[0]).attr("height",p.box[3]-p.box[1])
    .attr("fill","none").attr("stroke","#666").attr("stroke-width",1.6);

  var ax = g.append("g").attr("transform","translate(0,"+p.box[3]+")")
    .call(d3.axisBottom(x).tickValues(p.xTicks).tickSize(10).tickPadding(12).tickFormat(d3.format(".1f")));
  var ay = g.append("g").attr("transform","translate("+p.box[0]+",0)")
    .call(d3.axisLeft(y).tickValues(imTicks).tickSize(10).tickPadding(5).tickFormat(d3.format(".1f")));
  [ax,ay].forEach(function(a){
    a.select(".domain").remove();
    a.selectAll("line").attr("stroke","#444").attr("stroke-width",1.4);
    a.selectAll("text").attr("font-family","'Liberation Sans',Arial,sans-serif").attr("font-weight","bold").attr("font-size",23).attr("fill","#333");
  });
  ay.selectAll("text").text(function(d){return d3.format(".1f")(d).replace("−","-");});

  g.append("text").attr("x",p.xl[0]).attr("y",p.xl[1]).attr("text-anchor","middle")
    .attr("font-family","'Liberation Sans',Arial,sans-serif").attr("font-weight","bold").attr("font-size",24).attr("fill","#333")
    .text("Re H (ω)");
  g.append("text").attr("transform","translate("+(p.yl[0]+8)+","+p.yl[1]+") rotate(-90)").attr("text-anchor","middle")
    .attr("font-family","'Liberation Sans',Arial,sans-serif").attr("font-weight","bold").attr("font-size",24).attr("fill","#333")
    .text("Im H (ω)");
  g.append("text").attr("x",p.tx).attr("y",p.ty)
    .attr("font-family","'Liberation Serif',serif").attr("font-weight","bold").attr("font-size",45.5).attr("fill","#000")
    .text(p.title);
}

function symbolFor(kind){
  if(kind=="square") return "M-3.5,-3.5H3.5V3.5H-3.5Z";
  if(kind=="up") return "M0,-4.2L4.6,3.4H-4.6Z";
  if(kind=="down") return "M0,4.2L4.6,-3.4H-4.6Z";
  return d3.symbol().type(d3.symbolCircle).size(38)();
}

function drawBar(){
  var x = d3.scaleLinear().domain([1.0,1.8]).range([427,929]);
  var top = 1117, base = 1168;
  var grad = svgMain.append("defs").append("linearGradient").attr("id","barFill");
  var x0 = 1.008, x1 = 1.808;
  barStops.forEach(function(v,i){
    grad.append("stop").attr("offset",Math.max(0,(v-x0)/(x1-x0))).attr("stop-color",barColors[i]);
  });
  svgMain.append("rect").attr("x",x(x0)).attr("y",top).attr("width",x(x1)-x(x0)).attr("height",base-top).attr("fill","url(#barFill)");
  svgMain.selectAll(".rug").data(voltages).enter().append("rect")
    .attr("x",function(d){return x(d)-2.5;}).attr("y",base-11).attr("width",5).attr("height",11)
    .attr("fill","#000").attr("fill-opacity",.75);

  var xa = d3.scaleLinear().domain([x.invert(407),x.invert(946)]).range([407,946]);
  var axis = svgMain.append("g").attr("transform","translate(0,"+base+")")
    .call(d3.axisBottom(xa).tickValues(barMajor).tickSize(9).tickPadding(7).tickFormat(d3.format(".1f")).tickSizeOuter(0));
  axis.select(".domain").attr("stroke","#111").attr("stroke-width",1.4);
  axis.selectAll("line").attr("stroke","#111").attr("stroke-width",1.2);
  axis.selectAll("text").attr("font-family","'Liberation Sans',Arial,sans-serif").attr("font-size",18).attr("fill","#444");
  svgMain.selectAll(".minor").data(barMinor).enter().append("line")
    .attr("x1",xa).attr("x2",xa).attr("y1",base).attr("y2",base+5).attr("stroke","#111").attr("stroke-width",1.1);

  svgMain.append("text").attr("x",677).attr("y",1235).attr("text-anchor","middle")
    .attr("font-family","Lato,'Open Sans',sans-serif").attr("font-size",35.5).attr("fill","#222")
    .text("V vs RHE");
}
</script>
</body>
</html>
